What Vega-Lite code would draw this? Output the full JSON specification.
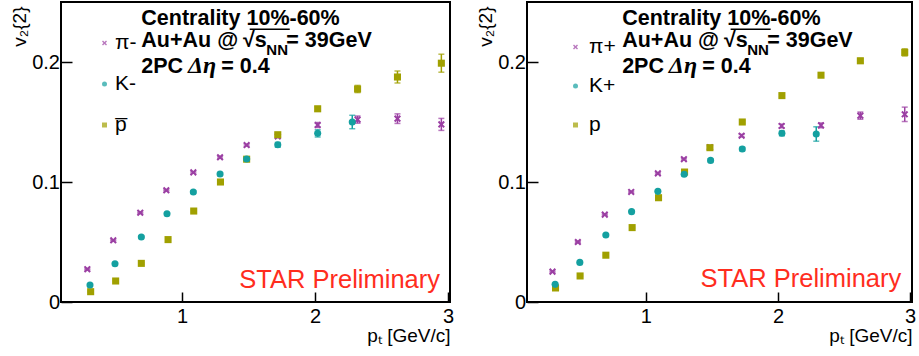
{
  "$schema": "https://vega.github.io/schema/vega-lite/v6.json",
  "background": "white",
  "padding": {"left": 9, "top": 1, "right": 0, "bottom": 2},
  "spacing": 20,
  "config": {
    "view": {"stroke": "black", "strokeWidth": 2},
    "font": "Liberation Sans",
    "axis": {"domain": false, "grid": false, "tickColor": "black", "tickWidth": 1.5, "labelColor": "black", "labelFont": "Liberation Sans", "labelFontSize": 20, "labelOverlap": false, "titleFont": "Liberation Sans", "titleFontSize": 19, "titleFontWeight": "normal", "titleColor": "black", "format": ".1~f"},
    "axisX": {"tickSize": -10, "labelPadding": 14, "labelAngle": 0, "labelFlush": false, "titleAnchor": "end", "titleAlign": "right", "titleBaseline": "alphabetic", "titleY": 39},
    "axisY": {"tickSize": -11, "labelPadding": 12.5, "labelFlush": false, "titleAnchor": "end", "titleAlign": "right", "titleAngle": 270, "titleBaseline": "alphabetic", "titleX": -36, "titleY": 4},
    "legend": {"title": null, "labelFont": "Liberation Sans", "labelFontSize": 21, "labelColor": "black", "symbolSize": 25, "padding": 0, "symbolStrokeWidth": 0}
  },
  "datasets": {
    "left": [
      {"species": "π-", "pt": 0.288, "v2": 0.0273, "err": 0.0005},
      {"species": "π-", "pt": 0.483, "v2": 0.0514, "err": 0.0005},
      {"species": "π-", "pt": 0.686, "v2": 0.0744, "err": 0.0005},
      {"species": "π-", "pt": 0.882, "v2": 0.0931, "err": 0.0005},
      {"species": "π-", "pt": 1.085, "v2": 0.108, "err": 0.0006},
      {"species": "π-", "pt": 1.286, "v2": 0.1206, "err": 0.0007},
      {"species": "π-", "pt": 1.486, "v2": 0.1308, "err": 0.0008},
      {"species": "π-", "pt": 1.72, "v2": 0.138, "err": 0.001},
      {"species": "π-", "pt": 2.02, "v2": 0.1475, "err": 0.002},
      {"species": "π-", "pt": 2.32, "v2": 0.152, "err": 0.003},
      {"species": "π-", "pt": 2.62, "v2": 0.1528, "err": 0.004},
      {"species": "π-", "pt": 2.95, "v2": 0.148, "err": 0.005},
      {"species": "p̅", "pt": 0.313, "v2": 0.0086, "err": 0.0006},
      {"species": "p̅", "pt": 0.501, "v2": 0.0175, "err": 0.0006},
      {"species": "p̅", "pt": 0.694, "v2": 0.0322, "err": 0.0007},
      {"species": "p̅", "pt": 0.895, "v2": 0.052, "err": 0.0008},
      {"species": "p̅", "pt": 1.088, "v2": 0.0758, "err": 0.0009},
      {"species": "p̅", "pt": 1.289, "v2": 0.1, "err": 0.001},
      {"species": "p̅", "pt": 1.486, "v2": 0.119, "err": 0.0012},
      {"species": "p̅", "pt": 1.72, "v2": 0.1394, "err": 0.0015},
      {"species": "p̅", "pt": 2.02, "v2": 0.161, "err": 0.002},
      {"species": "p̅", "pt": 2.32, "v2": 0.1775, "err": 0.003},
      {"species": "p̅", "pt": 2.62, "v2": 0.1875, "err": 0.005},
      {"species": "p̅", "pt": 2.95, "v2": 0.199, "err": 0.0075},
      {"species": "K-", "pt": 0.308, "v2": 0.0142, "err": 0.0006},
      {"species": "K-", "pt": 0.496, "v2": 0.0319, "err": 0.0006},
      {"species": "K-", "pt": 0.694, "v2": 0.0542, "err": 0.0007},
      {"species": "K-", "pt": 0.887, "v2": 0.0736, "err": 0.0008},
      {"species": "K-", "pt": 1.085, "v2": 0.0917, "err": 0.001},
      {"species": "K-", "pt": 1.286, "v2": 0.1067, "err": 0.0012},
      {"species": "K-", "pt": 1.486, "v2": 0.1192, "err": 0.0015},
      {"species": "K-", "pt": 1.72, "v2": 0.131, "err": 0.002},
      {"species": "K-", "pt": 2.02, "v2": 0.1406, "err": 0.003},
      {"species": "K-", "pt": 2.28, "v2": 0.15, "err": 0.0056}
    ],
    "right": [
      {"species": "π+", "pt": 0.293, "v2": 0.0253, "err": 0.0005},
      {"species": "π+", "pt": 0.485, "v2": 0.05, "err": 0.0005},
      {"species": "π+", "pt": 0.689, "v2": 0.0728, "err": 0.0005},
      {"species": "π+", "pt": 0.889, "v2": 0.0917, "err": 0.0005},
      {"species": "π+", "pt": 1.091, "v2": 0.1072, "err": 0.0006},
      {"species": "π+", "pt": 1.288, "v2": 0.119, "err": 0.0007},
      {"species": "π+", "pt": 1.485, "v2": 0.129, "err": 0.0008},
      {"species": "π+", "pt": 1.725, "v2": 0.1386, "err": 0.001},
      {"species": "π+", "pt": 2.028, "v2": 0.1467, "err": 0.0015},
      {"species": "π+", "pt": 2.326, "v2": 0.1472, "err": 0.002},
      {"species": "π+", "pt": 2.624, "v2": 0.1553, "err": 0.003},
      {"species": "π+", "pt": 2.96, "v2": 0.1564, "err": 0.006},
      {"species": "p", "pt": 0.316, "v2": 0.0117, "err": 0.0005},
      {"species": "p", "pt": 0.502, "v2": 0.0217, "err": 0.0005},
      {"species": "p", "pt": 0.697, "v2": 0.039, "err": 0.0005},
      {"species": "p", "pt": 0.896, "v2": 0.062, "err": 0.0006},
      {"species": "p", "pt": 1.096, "v2": 0.0869, "err": 0.0006},
      {"species": "p", "pt": 1.293, "v2": 0.1083, "err": 0.0007},
      {"species": "p", "pt": 1.485, "v2": 0.1286, "err": 0.0008},
      {"species": "p", "pt": 1.73, "v2": 0.15, "err": 0.001},
      {"species": "p", "pt": 2.03, "v2": 0.172, "err": 0.0012},
      {"species": "p", "pt": 2.326, "v2": 0.189, "err": 0.0015},
      {"species": "p", "pt": 2.624, "v2": 0.201, "err": 0.002},
      {"species": "p", "pt": 2.96, "v2": 0.208, "err": 0.003},
      {"species": "K+", "pt": 0.313, "v2": 0.0147, "err": 0.0005},
      {"species": "K+", "pt": 0.5, "v2": 0.033, "err": 0.0005},
      {"species": "K+", "pt": 0.697, "v2": 0.0558, "err": 0.0006},
      {"species": "K+", "pt": 0.892, "v2": 0.0753, "err": 0.0007},
      {"species": "K+", "pt": 1.091, "v2": 0.0922, "err": 0.0008},
      {"species": "K+", "pt": 1.29, "v2": 0.1064, "err": 0.001},
      {"species": "K+", "pt": 1.49, "v2": 0.118, "err": 0.0012},
      {"species": "K+", "pt": 1.73, "v2": 0.1275, "err": 0.0015},
      {"species": "K+", "pt": 2.03, "v2": 0.1406, "err": 0.002},
      {"species": "K+", "pt": 2.29, "v2": 0.14, "err": 0.006}
    ],
    "notesLeft": [
      {"kind": "bold", "x": 0.694, "y": 0.2308, "text": "Centrality 10%-60%"},
      {"kind": "bold", "x": 0.694, "y": 0.2128, "text": "Au+Au @"},
      {"kind": "bold", "x": 1.4586, "y": 0.2128, "text": "√s"},
      {"kind": "bold", "x": 1.784, "y": 0.2128, "text": "= 39GeV"},
      {"kind": "bold", "x": 0.694, "y": 0.1911, "text": "2PC"},
      {"kind": "bold", "x": 1.2955, "y": 0.1911, "text": "= 0.4"},
      {"kind": "italic", "x": 1.045, "y": 0.1911, "text": "Δη"},
      {"kind": "sub", "x": 1.634, "y": 0.2058, "text": "NN"},
      {"kind": "star", "x": 2.94, "y": 0.0117, "text": "STAR Preliminary"}
    ],
    "barLeft": [
      {"x": 1.509, "x2": 1.81, "y": 0.2273}
    ],
    "notesRight": [
      {"kind": "bold", "x": 0.8205, "y": 0.2308, "text": "Centrality 10%-60%"},
      {"kind": "bold", "x": 0.8205, "y": 0.2128, "text": "Au+Au @"},
      {"kind": "bold", "x": 1.591, "y": 0.2128, "text": "√s"},
      {"kind": "bold", "x": 1.919, "y": 0.2128, "text": "= 39GeV"},
      {"kind": "bold", "x": 0.8205, "y": 0.1911, "text": "2PC"},
      {"kind": "bold", "x": 1.4265, "y": 0.1911, "text": "= 0.4"},
      {"kind": "italic", "x": 1.174, "y": 0.1911, "text": "Δη"},
      {"kind": "sub", "x": 1.7674, "y": 0.2058, "text": "NN"},
      {"kind": "star", "x": 2.934, "y": 0.0128, "text": "STAR Preliminary"}
    ],
    "barRight": [
      {"x": 1.6417, "x2": 1.9447, "y": 0.2273}
    ]
  },
  "hconcat": [
    {
      "width": 389,
      "height": 300,
      "encoding": {
        "x": {"type": "quantitative", "scale": {"domain": [0.09, 3.015], "nice": false, "zero": false}, "axis": {"values": [1, 2, 3], "title": "pₜ [GeV/c]"}},
        "y": {"type": "quantitative", "scale": {"domain": [0, 0.25], "nice": false, "zero": false}, "axis": {"values": [0, 0.1, 0.2], "title": "v₂{2}"}}
      },
      "layer": [
        {
          "data": {"name": "left"},
          "mark": {"type": "errorbar", "ticks": {"size": 6}, "thickness": 1.5},
          "encoding": {
            "x": {"field": "pt", "type": "quantitative"},
            "y": {"field": "v2", "type": "quantitative"},
            "yError": {"field": "err"},
            "color": {"field": "species", "type": "nominal", "scale": {"domain": ["π-", "K-", "p̅"], "range": ["#9b3fa3", "#14a0a0", "#a0a000"]}, "legend": {"orient": "none", "legendX": 33, "legendY": 30.5, "rowPadding": 19, "labelOffset": 0}}
          }
        },
        {
          "data": {"name": "left"},
          "mark": {"type": "point", "filled": true, "size": 50, "opacity": 1, "strokeWidth": 0},
          "encoding": {
            "x": {"field": "pt", "type": "quantitative"},
            "y": {"field": "v2", "type": "quantitative"},
            "color": {"field": "species", "type": "nominal", "scale": {"domain": ["π-", "K-", "p̅"], "range": ["#9b3fa3", "#14a0a0", "#a0a000"]}, "legend": {"orient": "none", "legendX": 33, "legendY": 30.5, "rowPadding": 19, "labelOffset": 0}},
            "shape": {"field": "species", "type": "nominal", "scale": {"domain": ["π-", "K-", "p̅"], "range": ["M-1,-0.6L-0.6,-1L0,-0.4L0.6,-1L1,-0.6L0.4,0L1,0.6L0.6,1L0,0.4L-0.6,1L-1,0.6L-0.4,0Z", "circle", "square"]}, "legend": {"orient": "none", "legendX": 33, "legendY": 30.5, "rowPadding": 19, "labelOffset": 0}}
          }
        },
        {
          "data": {"name": "notesLeft"},
          "transform": [{"filter": "datum.kind === 'bold'"}],
          "mark": {"type": "text", "align": "left", "baseline": "alphabetic", "font": "Liberation Sans", "fontWeight": "bold", "fontSize": 21.5, "color": "black"},
          "encoding": {
            "x": {"field": "x", "type": "quantitative"},
            "y": {"field": "y", "type": "quantitative"},
            "text": {"field": "text"}
          }
        },
        {
          "data": {"name": "notesLeft"},
          "transform": [{"filter": "datum.kind === 'italic'"}],
          "mark": {"type": "text", "align": "left", "baseline": "alphabetic", "font": "Liberation Serif", "fontWeight": "bold", "fontStyle": "italic", "fontSize": 24, "color": "black"},
          "encoding": {
            "x": {"field": "x", "type": "quantitative"},
            "y": {"field": "y", "type": "quantitative"},
            "text": {"field": "text"}
          }
        },
        {
          "data": {"name": "notesLeft"},
          "transform": [{"filter": "datum.kind === 'sub'"}],
          "mark": {"type": "text", "align": "left", "baseline": "alphabetic", "font": "Liberation Sans", "fontWeight": "bold", "fontSize": 15, "color": "black"},
          "encoding": {
            "x": {"field": "x", "type": "quantitative"},
            "y": {"field": "y", "type": "quantitative"},
            "text": {"field": "text"}
          }
        },
        {
          "data": {"name": "notesLeft"},
          "transform": [{"filter": "datum.kind === 'star'"}],
          "mark": {"type": "text", "align": "right", "baseline": "alphabetic", "font": "Liberation Sans", "fontSize": 25.5, "color": "#ff2d1e"},
          "encoding": {
            "x": {"field": "x", "type": "quantitative"},
            "y": {"field": "y", "type": "quantitative"},
            "text": {"field": "text"}
          }
        },
        {
          "data": {"name": "barLeft"},
          "mark": {"type": "rule", "color": "black", "strokeWidth": 1.3},
          "encoding": {
            "x": {"field": "x", "type": "quantitative"},
            "x2": {"field": "x2"},
            "y": {"field": "y", "type": "quantitative"}
          }
        }
      ]
    },
    {
      "width": 385,
      "height": 300,
      "encoding": {
        "x": {"type": "quantitative", "scale": {"domain": [0.1, 3.015], "nice": false, "zero": false}, "axis": {"values": [1, 2, 3], "title": "pₜ [GeV/c]"}},
        "y": {"type": "quantitative", "scale": {"domain": [0, 0.25], "nice": false, "zero": false}, "axis": {"values": [0, 0.1, 0.2], "title": "v₂{2}"}}
      },
      "layer": [
        {
          "data": {"name": "right"},
          "mark": {"type": "errorbar", "ticks": {"size": 6}, "thickness": 1.5},
          "encoding": {
            "x": {"field": "pt", "type": "quantitative"},
            "y": {"field": "v2", "type": "quantitative"},
            "yError": {"field": "err"},
            "color": {"field": "species", "type": "nominal", "scale": {"domain": ["π+", "K+", "p"], "range": ["#9b3fa3", "#14a0a0", "#a0a000"]}, "legend": {"orient": "none", "legendX": 38, "legendY": 34.5, "rowPadding": 17, "labelOffset": 3}}
          }
        },
        {
          "data": {"name": "right"},
          "mark": {"type": "point", "filled": true, "size": 50, "opacity": 1, "strokeWidth": 0},
          "encoding": {
            "x": {"field": "pt", "type": "quantitative"},
            "y": {"field": "v2", "type": "quantitative"},
            "color": {"field": "species", "type": "nominal", "scale": {"domain": ["π+", "K+", "p"], "range": ["#9b3fa3", "#14a0a0", "#a0a000"]}, "legend": {"orient": "none", "legendX": 38, "legendY": 34.5, "rowPadding": 17, "labelOffset": 3}},
            "shape": {"field": "species", "type": "nominal", "scale": {"domain": ["π+", "K+", "p"], "range": ["M-1,-0.6L-0.6,-1L0,-0.4L0.6,-1L1,-0.6L0.4,0L1,0.6L0.6,1L0,0.4L-0.6,1L-1,0.6L-0.4,0Z", "circle", "square"]}, "legend": {"orient": "none", "legendX": 38, "legendY": 34.5, "rowPadding": 17, "labelOffset": 3}}
          }
        },
        {
          "data": {"name": "notesRight"},
          "transform": [{"filter": "datum.kind === 'bold'"}],
          "mark": {"type": "text", "align": "left", "baseline": "alphabetic", "font": "Liberation Sans", "fontWeight": "bold", "fontSize": 21.5, "color": "black"},
          "encoding": {
            "x": {"field": "x", "type": "quantitative"},
            "y": {"field": "y", "type": "quantitative"},
            "text": {"field": "text"}
          }
        },
        {
          "data": {"name": "notesRight"},
          "transform": [{"filter": "datum.kind === 'italic'"}],
          "mark": {"type": "text", "align": "left", "baseline": "alphabetic", "font": "Liberation Serif", "fontWeight": "bold", "fontStyle": "italic", "fontSize": 24, "color": "black"},
          "encoding": {
            "x": {"field": "x", "type": "quantitative"},
            "y": {"field": "y", "type": "quantitative"},
            "text": {"field": "text"}
          }
        },
        {
          "data": {"name": "notesRight"},
          "transform": [{"filter": "datum.kind === 'sub'"}],
          "mark": {"type": "text", "align": "left", "baseline": "alphabetic", "font": "Liberation Sans", "fontWeight": "bold", "fontSize": 15, "color": "black"},
          "encoding": {
            "x": {"field": "x", "type": "quantitative"},
            "y": {"field": "y", "type": "quantitative"},
            "text": {"field": "text"}
          }
        },
        {
          "data": {"name": "notesRight"},
          "transform": [{"filter": "datum.kind === 'star'"}],
          "mark": {"type": "text", "align": "right", "baseline": "alphabetic", "font": "Liberation Sans", "fontSize": 25.5, "color": "#ff2d1e"},
          "encoding": {
            "x": {"field": "x", "type": "quantitative"},
            "y": {"field": "y", "type": "quantitative"},
            "text": {"field": "text"}
          }
        },
        {
          "data": {"name": "barRight"},
          "mark": {"type": "rule", "color": "black", "strokeWidth": 1.3},
          "encoding": {
            "x": {"field": "x", "type": "quantitative"},
            "x2": {"field": "x2"},
            "y": {"field": "y", "type": "quantitative"}
          }
        }
      ]
    }
  ],
  "resolve": {"scale": {"color": "independent", "shape": "independent"}}
}
